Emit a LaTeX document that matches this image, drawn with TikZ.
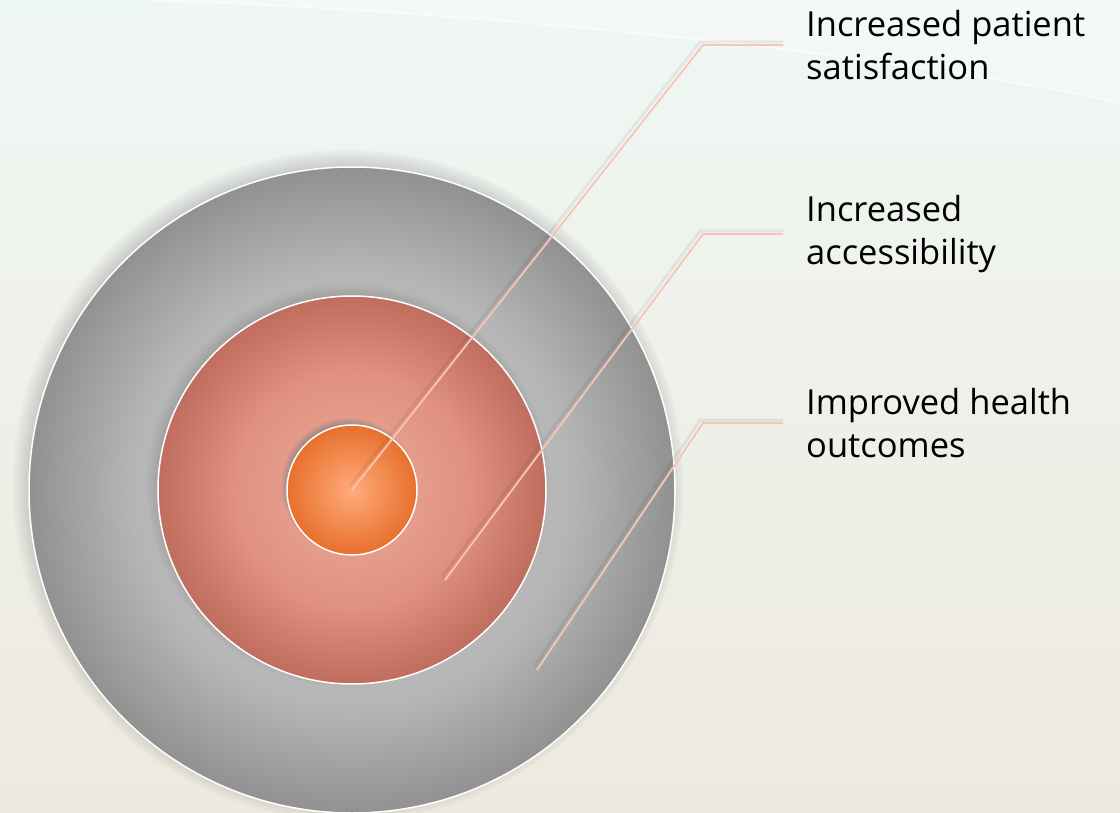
\documentclass[tikz,border=0pt]{standalone}
\usepackage{fontspec}
\setmainfont{Open Sans}
\usetikzlibrary{shadows}
\definecolor{bgtop}{HTML}{EFF7F4}
\definecolor{bgbot}{HTML}{EEE9DE}
\definecolor{orangein}{HTML}{FFAB7C}
\definecolor{orangeout}{HTML}{E8702C}
\definecolor{leadc}{HTML}{F6C5B3}
\pgfdeclareradialshading{greyring}{\pgfpoint{0bp}{0bp}}{color(0bp)=(black!20); color(17bp)=(black!29); color(25bp)=(black!43); color(50bp)=(black!43)}
\pgfdeclareradialshading{salmonring}{\pgfpoint{0bp}{0bp}}{rgb(0bp)=(0.92,0.67,0.61); rgb(15bp)=(0.88,0.57,0.50); rgb(25bp)=(0.75,0.43,0.37); rgb(50bp)=(0.75,0.43,0.37)}

\begin{document}
\begin{tikzpicture}[x=1pt,y=-1pt,
		ring/.style={circle, draw=white, line width=1.5pt, inner sep=0pt},
		ringshadow/.style={circular drop shadow={shadow xshift=-4pt, shadow yshift=5pt, shadow scale=1.04, opacity=0.9}},
		leader/.style={line width=1.8pt, draw=leadc},
		leadshade/.style={line width=3pt, draw=black, opacity=0.06},
		lab/.style={anchor=west, align=left, inner xsep=23pt, inner ysep=0pt, font=\fontsize{34.5}{43}\selectfont}]
		\useasboundingbox (0,0) rectangle (1120,813);
		% background
		\fill[top color=bgtop, bottom color=bgbot] (0,0) rectangle (1120,813);
		\fill[white, opacity=0.25] (150,0) .. controls (500,12) and (900,55) .. (1120,103) -- (1120,0) -- cycle;
		\draw[white, line width=1.5pt, opacity=0.7] (150,0) .. controls (500,12) and (900,55) .. (1120,103);
		% rings
		\node[ring, ringshadow, minimum size=646pt, shading=greyring] (outer) at (352,490) {};
		\node[ring, ringshadow, minimum size=388pt, shading=salmonring] (middle) at (352,490) {};
		\node[ring, ringshadow, minimum size=130pt, inner color=orangein, outer color=orangeout] (inner) at (352,490) {};
		% labels
		\node[lab] (lab1) at (783,45) {Increased patient\\satisfaction};
		\node[lab] (lab2) at (783,234) {Increased\\accessibility};
		\node[lab] (lab3) at (783,423) {Improved health\\outcomes};
		% leader points
		\coordinate (t2) at (445,580);
		\coordinate (t3) at (537,670);
		\coordinate (k1) at (703,45);
		\coordinate (k2) at (703,234);
		\coordinate (k3) at (703,423);
		% leader lines
		\foreach \t/\k/\l in {inner.center/k1/lab1, t2/k2/lab2, t3/k3/lab3}
		{
			\draw[leadshade] ([shift={(-3,-3)}]\t) -- ([shift={(-3,-3)}]\k) -- ([shift={(0,-3)}]\l.west);
			\draw[leader] (\t) -- (\k) -- (\l.west);
		}
	\end{tikzpicture}
\end{document}
